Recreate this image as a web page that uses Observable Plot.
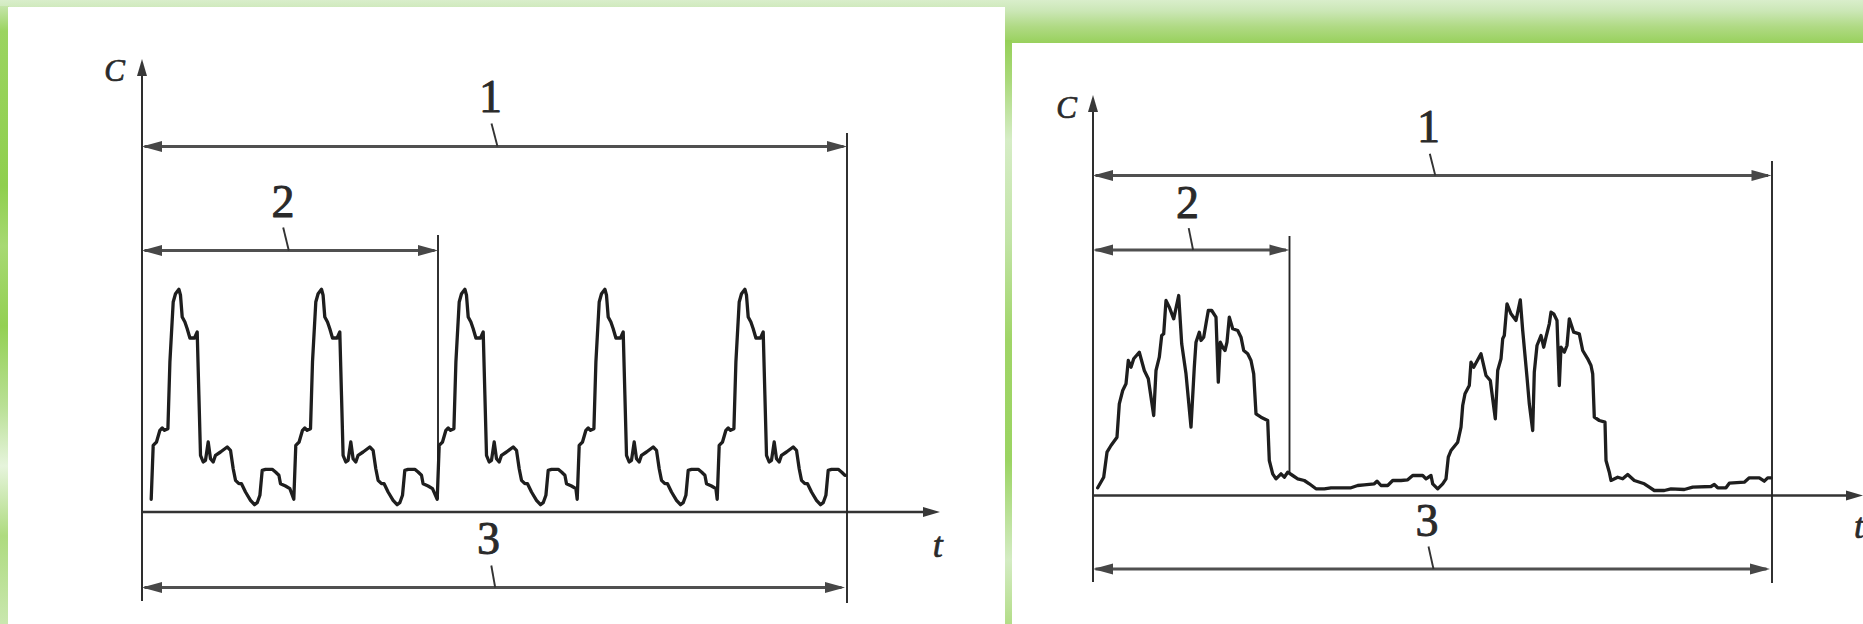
<!DOCTYPE html>
<html><head><meta charset="utf-8">
<script src="https://cdn.jsdelivr.net/npm/d3@7"></script>
<script src="https://cdn.jsdelivr.net/npm/@observablehq/plot@0.6"></script>
<style>
html,body{margin:0;padding:0;}
body{width:1863px;height:624px;position:relative;overflow:hidden;background:#cfe9bd;}
.bg{position:absolute;}
#topband{left:0;top:0;width:1863px;height:44px;background:linear-gradient(to bottom,#d9eecb 0%,#cbe7b6 25%,#b0da85 60%,#97d05a 100%);}
#leftstrip{left:0;top:6px;width:9px;height:618px;background:linear-gradient(to bottom,#c5e5aa 0px,#9bd460 25px,#8fcf4e 180px,#a7d973 240px,#93d053 320px,#b9e095 400px,#e6f4dc 460px,#aedb7f 530px,#cbe8b2 624px);}
#midstrip{left:1005px;top:40px;width:7px;height:584px;background:linear-gradient(to bottom,#95d057 0px,#aad97a 40px,#d6edc6 100px,#c2e4a6 200px,#a0d567 300px,#9bd462 420px,#d4ecc3 520px,#b3dd88 584px);}
#leftpanel{left:8px;top:7px;width:997px;height:617px;background:#fff;}
#rightpanel{left:1012px;top:43px;width:851px;height:581px;background:#fff;}
#left{position:absolute;left:0;top:0;}
#right{position:absolute;left:1000px;top:0;}
</style>
</head>
<body>
<div class="bg" id="topband"></div>
<div class="bg" id="leftstrip"></div>
<div class="bg" id="midstrip"></div>
<div class="bg" id="leftpanel"></div>
<div class="bg" id="rightpanel"></div>
<div id="left"></div>
<div id="right"></div>
<script>
// ---------- LEFT DIAGRAM: periodic concentration cycles ----------
// one cycle (time from cycle start, concentration)
const leftCycleT = [0, 2, 5.3, 8.7, 11, 13.3, 16.7, 18.7, 22, 24.3,
  27.7, 29.3, 31, 33.7, 36, 38.7, 43.3, 46, 47.7, 49.3,
  52, 54.3, 57, 59.3, 62, 64.3, 69.3, 76, 79.3, 82,
  84.3, 87.7, 90.3, 94.3, 99.3, 103.3, 106, 108.7, 111, 114.3,
  121, 124.3, 127.7, 129.3, 134.3, 138.7];
const leftCycleC = [12.7, 66.7, 70, 81.7, 84, 81.7, 83.3, 150, 210, 218.3,
  222.7, 216.7, 195, 190, 183.3, 174, 174, 180, 116.7, 56.7,
  50, 51.7, 70, 53.3, 50, 56.7, 60, 65, 61.7, 43.3,
  31.7, 28.3, 28.3, 20, 11.7, 7.3, 9.3, 16.7, 41.7, 42.7,
  42.7, 40, 36.7, 28.3, 26, 23.3];
const leftCycleStarts = [9.2, 151.8, 295.2, 435.2, 575.2];
const leftEndT = 703.5;
const leftEndC = 36.7;

const leftDimLabel = ["1", "2", "3"];
const leftDimEnd = [705, 296, 703];
const leftDimLevel = [365.5, 261.5, -75.5];
const leftLabelT = [348.5, 141, 346.5];
const leftLabelC = [400, 295.5, -41.5];
const leftLeaderT1 = [349.5, 141.2, 349.3];
const leftLeaderC1 = [388.5, 284.5, -53.5];
const leftLeaderT2 = [355.5, 146.8, 353.2];
const leftExtT = [296, 705];
const leftExtC1 = [12.5, -91.5];
const leftExtC2 = [276.5, 378.5];
const leftAxisMaxT = 798, leftAxisMaxC = 453, leftAxisMinC = -89.5;
const leftTitleT = [-27.5, 795.8];
const leftTitleC = [431.5, -45.2];
const axisTitles = ["C", "t"];

// ---------- RIGHT DIAGRAM: two bursts ----------
const rightT = [4.7, 10.7, 14, 18, 24, 26.3, 29.7, 33, 35.3, 38,
  40.7, 46.3, 51.3, 55.3, 60.7, 63, 66.3, 68.7, 70.7, 73,
  76.3, 80.7, 85.7, 88.7, 93, 98, 101.3, 103, 106.3, 108,
  110.7, 113, 115.3, 118.7, 123, 125.3, 127.3, 129.7, 132, 134,
  136.3, 139.7, 144.7, 148, 150.7, 154.7, 158, 160.7, 163, 168,
  174.7, 176.3, 179.7, 183, 188, 191.3, 194.7, 199.7, 204.7, 211.3,
  216.3, 223, 231.3, 238, 258, 264.7, 271.3, 281.3, 284, 288,
  294.7, 299.7, 308, 314.7, 319.7, 329.7, 333, 338, 339.7, 344.7,
  349.7, 353, 355.3, 358, 364.7, 368, 369.7, 372, 376.3, 378,
  380.7, 388, 393, 397.3, 402.3, 404.7, 408, 409.7, 411.3, 414,
  418, 423, 427.3, 429.7, 434, 436.3, 439.7, 441.3, 444, 448,
  450.7, 453, 456.3, 458, 460.7, 464, 466.3, 468, 471.3, 474,
  476.3, 480.7, 486.3, 489.7, 494.7, 498, 499.7, 501.3, 506.3, 512,
  513, 516.3, 518, 524.7, 529.7, 534.7, 541.3, 551.3, 556.3, 561.3,
  571.3, 578, 591.3, 599.7, 618, 621.3, 624.7, 633, 636.3, 651.3,
  656.3, 666.3, 671.3, 674.7, 678];
const rightC = [7.7, 18.3, 43.3, 50, 58.3, 91.7, 105, 111.7, 135, 128.3,
  136.7, 143.3, 125, 116.7, 80, 125, 138.3, 160, 161.7, 195,
  188.3, 176.7, 200, 151.7, 121.7, 68.3, 128.3, 153.3, 163.3, 155,
  158.3, 171.7, 185, 185, 178.3, 113.3, 153.3, 148.3, 145, 153.3,
  178.3, 166.7, 165, 158.3, 145, 141.7, 135, 121.7, 81.7, 78.3,
  75, 35, 21.7, 16.7, 21.7, 18.3, 23.3, 20, 16.7, 15,
  11.7, 6.7, 6.7, 7.7, 7.7, 10, 10.7, 11.7, 14.3, 10,
  10, 15, 15, 15.7, 20, 20, 16.7, 20, 11.7, 6.7,
  11.7, 16.7, 38.3, 45, 53.3, 68.3, 90, 101.7, 110, 133.3,
  128.3, 141.7, 120, 115, 76.7, 125, 136.7, 156.7, 160, 191.7,
  181.7, 175, 195.7, 165, 118.3, 91.7, 65, 123.3, 150, 160,
  148.3, 158.3, 171.7, 183.3, 181.7, 175, 110, 148.3, 143.3, 150,
  176.7, 163.3, 161.7, 145, 136.7, 130, 121.7, 78.3, 75, 73.3,
  35, 23.3, 15, 18.3, 16.7, 21, 15, 11.7, 8.3, 5,
  5, 6.7, 6, 8.3, 9, 11, 7.7, 7.7, 12.3, 13.3,
  17.7, 17.7, 14.3, 17.7, 17.7];

const rightDimLabel = ["1", "2", "3"];
const rightDimEnd = [678.5, 196.5, 677];
const rightDimLevel = [320, 245.5, -73.5];
const rightLabelT = [335.5, 94.5, 334];
const rightLabelC = [354, 278, -40];
const rightLeaderT1 = [336.8, 95.7, 335.5];
const rightLeaderC1 = [341.8, 267.4, -51];
const rightLeaderT2 = [342.3, 100.1, 340.5];
const rightExtT = [196.5, 679];
const rightExtC1 = [21.5, -88];
const rightExtC2 = [259, 334];
const rightAxisMaxT = 770, rightAxisMaxC = 400.5, rightAxisMinC = -87;
const rightTitleT = [-26.5, 766];
const rightTitleC = [377.6, -42];

// ---------- build tables ----------
const leftSeries = [];
leftCycleStarts.forEach(s => {
  leftCycleT.forEach((dt, i) => {
    if (s + dt <= leftEndT) leftSeries.push({t: s + dt, c: leftCycleC[i]});
  });
});
leftSeries.push({t: leftEndT, c: leftEndC});
const rightSeries = rightT.map((t, i) => ({t, c: rightC[i]}));

// filled narrow arrowhead, tip at the origin pointing right
const dimHead = {draw(ctx) { ctx.moveTo(0, 0); ctx.lineTo(-20, -5.5); ctx.lineTo(-20, 5.5); ctx.closePath(); }};
const axisHead = {draw(ctx) { ctx.moveTo(0, 0); ctx.lineTo(-17, -5); ctx.lineTo(-17, 5); ctx.closePath(); }};

function panel(cfg) {
  const dims = cfg.dimLabel.map((l, i) => ({
    label: l, end: cfg.dimEnd[i], level: cfg.dimLevel[i],
    lt: cfg.labelT[i], lc: cfg.labelC[i],
    t1: cfg.leaderT1[i], c1: cfg.leaderC1[i], t2: cfg.leaderT2[i]
  }));
  const tips = [];
  dims.forEach(d => { tips.push({t: 0, c: d.level, a: 180}); tips.push({t: d.end, c: d.level, a: 0}); });
  const axisTips = [{t: cfg.axisMaxT, c: 0, a: 0}, {t: 0, c: cfg.axisMaxC, a: -90}];
  const exts = cfg.extT.map((t, i) => ({t, c1: cfg.extC1[i], c2: cfg.extC2[i]}));
  const titles = axisTitles.map((s, i) => ({s, t: cfg.titleT[i], c: cfg.titleC[i]}));
  return Plot.plot({
    width: cfg.width, height: 624,
    marginLeft: cfg.ml, marginRight: cfg.mr, marginTop: cfg.mt, marginBottom: cfg.mb,
    x: {domain: [0, cfg.axisMaxT], axis: null},
    y: {domain: [0, cfg.axisMaxC], axis: null},
    style: {background: "transparent", overflow: "visible"},
    marks: [
      // axes
      Plot.ruleY([0], {x1: 0, x2: cfg.axisMaxT - 10, stroke: "#333", strokeWidth: 2.4}),
      Plot.ruleX([0], {y1: cfg.axisMinC, y2: cfg.axisMaxC - 10, stroke: "#2e2e2e", strokeWidth: 2}),
      Plot.dot(axisTips, {x: "t", y: "c", rotate: "a", symbol: axisHead, fill: "#383838", stroke: "none"}),
      // extension lines
      Plot.ruleX(exts, {x: "t", y1: "c1", y2: "c2", stroke: "#262626", strokeWidth: 1.9}),
      // dimension lines
      Plot.ruleY(dims, {y: "level", x1: 3, x2: d => d.end - 3, stroke: "#505050", strokeWidth: 2.8}),
      Plot.dot(tips, {x: "t", y: "c", rotate: "a", symbol: dimHead, fill: "#474747", stroke: "none"}),
      Plot.link(dims, {x1: "t1", y1: "c1", x2: "t2", y2: "level", stroke: "#333", strokeWidth: 1.9}),
      Plot.text(dims, {x: "lt", y: "lc", text: "label", lineAnchor: "bottom", textAnchor: "middle",
        fontFamily: "Liberation Serif", fontSize: 46, fill: "#2a2a2a", stroke: "#2a2a2a", strokeWidth: 0.9}),
      // axis titles
      Plot.text(titles, {x: "t", y: "c", text: "s", lineAnchor: "bottom", textAnchor: "middle",
        fontFamily: "Liberation Serif", fontStyle: "italic", fontSize: d => d.s === "C" ? 31 : 36,
        fill: "#2a2a2a", stroke: "#2a2a2a", strokeWidth: 0.7}),
      // curve
      Plot.line(cfg.series, {x: "t", y: "c", stroke: "#1e1e1e", strokeWidth: 3.3, strokeLinejoin: "round", strokeLinecap: "round"})
    ]
  });
}

document.getElementById("left").appendChild(panel({
  width: 1005, ml: 141.5, mr: 65.5, mt: 58.5, mb: 112.5,
  series: leftSeries,
  dimLabel: leftDimLabel, dimEnd: leftDimEnd, dimLevel: leftDimLevel,
  labelT: leftLabelT, labelC: leftLabelC,
  leaderT1: leftLeaderT1, leaderC1: leftLeaderC1, leaderT2: leftLeaderT2,
  extT: leftExtT, extC1: leftExtC1, extC2: leftExtC2,
  axisMaxT: leftAxisMaxT, axisMaxC: leftAxisMaxC, axisMinC: leftAxisMinC,
  titleT: leftTitleT, titleC: leftTitleC
}));

document.getElementById("right").appendChild(panel({
  width: 863, ml: 92.5, mr: 0.5, mt: 94.5, mb: 129,
  series: rightSeries,
  dimLabel: rightDimLabel, dimEnd: rightDimEnd, dimLevel: rightDimLevel,
  labelT: rightLabelT, labelC: rightLabelC,
  leaderT1: rightLeaderT1, leaderC1: rightLeaderC1, leaderT2: rightLeaderT2,
  extT: rightExtT, extC1: rightExtC1, extC2: rightExtC2,
  axisMaxT: rightAxisMaxT, axisMaxC: rightAxisMaxC, axisMinC: rightAxisMinC,
  titleT: rightTitleT, titleC: rightTitleC
}));
</script>
</body></html>
